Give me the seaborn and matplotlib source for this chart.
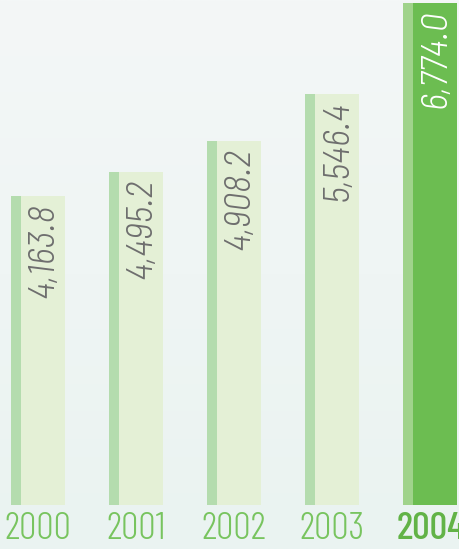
import matplotlib
matplotlib.use("Agg")
import matplotlib.pyplot as plt
import seaborn as sns
import pandas as pd
import numpy as np
from matplotlib.patches import Rectangle
from matplotlib.colors import LinearSegmentedColormap

years = ["2000", "2001", "2002", "2003", "2004"]
values = [4163.8, 4495.2, 4908.2, 5546.4, 6774.0]
value_labels = ["4,163.8", "4,495.2", "4,908.2", "5,546.4", "6,774.0"]

bar_colors = ["#e4f0d6", "#e4f0d6", "#e4f0d6", "#e4f0d6", "#6cbd51"]
strip_colors = ["#b4dcae", "#b4dcae", "#b4dcae", "#b4dcae", "#a0d38b"]
label_colors = ["#6e6e6e", "#6e6e6e", "#6e6e6e", "#6e6e6e", "#ffffff"]

sns.set_style("white")
FONT = ["Barlow Condensed", "DejaVu Sans"]
VFONT = ["Barlow Semi Condensed", "Barlow Condensed", "DejaVu Sans"]
plt.rcParams['font.family'] = FONT

fig = plt.figure(figsize=(4.59, 5.49), dpi=100)
fig.patch.set_facecolor("#f1f5f5")
bg = fig.add_axes([0, 0, 1, 1], zorder=-10)
grad = np.linspace(0, 1, 256).reshape(-1, 1)
cmap = LinearSegmentedColormap.from_list("bg", ["#f4f7f7", "#eaf3f1"])
bg.imshow(grad, aspect="auto", cmap=cmap, extent=[0, 1, 0, 1], origin="upper")
bg.axis("off")

ax = fig.add_axes([0, 44/549, 1, 505/549])
ax.set_facecolor("none")
df = pd.DataFrame({"year": years, "value": values})
sns.barplot(data=df, x="year", y="value", hue="year", palette=bar_colors,
            width=0.55, legend=False, ax=ax, saturation=1, linewidth=0)

strip_frac = 10/54
for p, sc, lab, lc in zip(ax.patches, strip_colors, value_labels, label_colors):
    x0 = p.get_x()
    w = p.get_width()
    h = p.get_height()
    ax.add_patch(Rectangle((x0, 0), w*strip_frac, h, facecolor=sc, linewidth=0, zorder=p.get_zorder()+0.1))
    cx = x0 + w*strip_frac + w*(1-strip_frac)/2
    ax.text(cx + 0.01, h - 90, lab, rotation=90, ha="center", va="top",
            fontsize=27, color=lc, fontstyle="italic", fontweight=300, family=VFONT)

ax.set_xlim(-38/98.1, (459-38)/98.1)
ax.set_ylim(0, 505/0.0741)
ax.set_yticks([])
ax.set_xlabel("")
ax.set_ylabel("")
for s in ax.spines.values():
    s.set_visible(False)
ax.tick_params(axis="x", length=0, pad=5)
ax.set_xticks(range(len(years)))
ax.set_xticklabels(years)
for i, t in enumerate(ax.get_xticklabels()):
    t.set_fontsize(28)
    t.set_fontweight(300 if i < 4 else 500)
    t.set_color("#78c45f" if i < 4 else "#62b347")

fig.savefig("out.png", dpi=100, facecolor=fig.get_facecolor())
